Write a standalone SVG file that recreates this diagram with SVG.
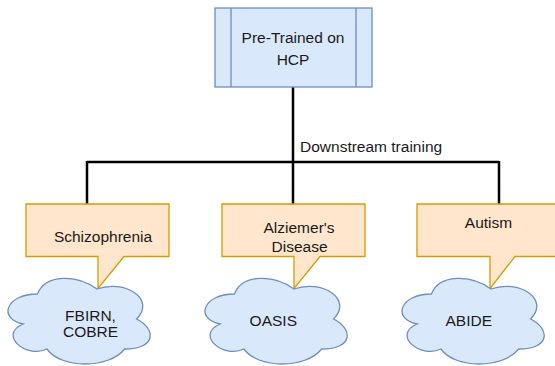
<svg xmlns="http://www.w3.org/2000/svg" width="555" height="366" viewBox="0 0 555 366">
<defs>
<style>
text{font-family:"Liberation Sans",Arial,Helvetica,sans-serif;font-size:15.5px;fill:#1a1a1a;text-anchor:middle}
.blue{fill:#dae8fc;stroke:#6c8ebf;stroke-width:1.3}
.orange{fill:#ffe6cc;stroke:#d79b00;stroke-width:1.3}
.conn{fill:none;stroke:#000;stroke-width:2.5}
</style>
<path id="cloud" d="M39.7,25 C7.9,25 0,50 25.4,55 C0,66 28.6,90 49.2,80 C63.5,100 111.1,100 127,80 C158.7,80 158.7,60 138.9,50 C158.7,30 127,10 99.2,20 C79.4,5 47.6,5 39.7,25 Z"/>
</defs>
<rect width="555" height="366" fill="#ffffff"/>
<g id="connectors">
<path class="conn" d="M293,87 V162 M87,162 H499 M87,161 V204 M293,162 V204 M499,161 V204"/>
<text x="300" y="151.5" style="text-anchor:start">Downstream training</text>
</g>
<g id="pretrained">
<rect class="blue" x="215" y="8" width="157" height="79"/>
<path class="blue" d="M231,8 V87 M356,8 V87" fill="none"/>
<text x="293" y="43.3">Pre-Trained on</text>
<text x="293" y="65">HCP</text>
</g>
<g id="schizophrenia">
<path class="orange" d="M26,204 H169 V256.5 H124 L98,288.5 V256.5 H26 Z"/>
<text x="103" y="241.5">Schizophrenia</text>
</g>
<g id="alzheimers">
<path class="orange" d="M222,204 H365 V256.5 H320 L294,288.5 V256.5 H222 Z"/>
<text x="299" y="232.5">Alziemer's</text>
<text x="299.5" y="252.3">Disease</text>
</g>
<g id="autism">
<path class="orange" d="M417,204 H560 V256.5 H515 L490,288.5 V256.5 H417 Z"/>
<text x="488.5" y="228.3">Autism</text>
</g>
<g id="fbirn">
<use href="#cloud" class="blue" transform="translate(-2.3,269)"/>
<text x="90.5" y="321">FBIRN,</text>
<text x="90.5" y="337.3">COBRE</text>
</g>
<g id="oasis">
<use href="#cloud" class="blue" transform="translate(194.7,269)"/>
<text x="273.3" y="326">OASIS</text>
</g>
<g id="abide">
<use href="#cloud" class="blue" transform="translate(391.7,269)"/>
<text x="468.8" y="326">ABIDE</text>
</g>
</svg>
